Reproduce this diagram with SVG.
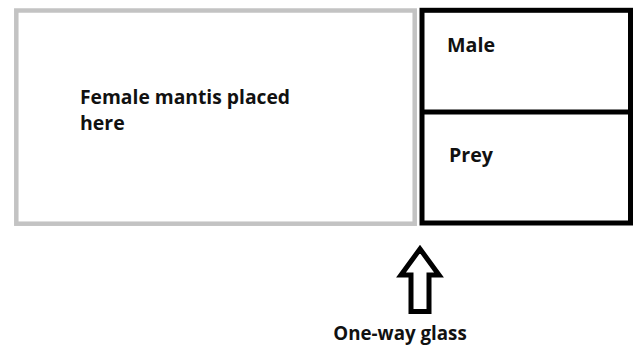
<svg xmlns="http://www.w3.org/2000/svg" width="633" height="347" viewBox="0 0 633 347">
<style>
.lbl{font-family:"Open Sans","Liberation Sans",sans-serif;font-weight:bold;font-size:19.5px;fill:#111}
</style>
<rect width="633" height="347" fill="#fff"/>
<g id="female-chamber">
<rect x="16.3" y="10.5" width="398.4" height="213.2" fill="#fff" stroke="#c3c3c3" stroke-width="4.5"/>
<text class="lbl" x="80" y="104" textLength="210" lengthAdjust="spacingAndGlyphs">Female mantis placed</text>
<text class="lbl" x="80" y="130">here</text>
</g>
<g id="right-chamber">
<rect x="422" y="10.3" width="208.5" height="212.7" fill="#fff" stroke="#000" stroke-width="5"/>
<line x1="422" y1="112" x2="630.5" y2="112" stroke="#000" stroke-width="5"/>
</g>
<g id="male">
<text class="lbl" x="447" y="52.3" textLength="48" lengthAdjust="spacingAndGlyphs">Male</text>
</g>
<g id="prey">
<text class="lbl" x="449" y="161.7" textLength="44" lengthAdjust="spacingAndGlyphs">Prey</text>
</g>
<g id="connectors">
<polygon points="420,249 439,275 429,275 429,311.5 411,311.5 411,275 401,275" fill="#fff" stroke="#000" stroke-width="5" stroke-linejoin="miter"/>
</g>
<g id="one-way-glass">
<text class="lbl" x="333.3" y="340" textLength="133.4" lengthAdjust="spacingAndGlyphs">One-way glass</text>
</g>
</svg>
